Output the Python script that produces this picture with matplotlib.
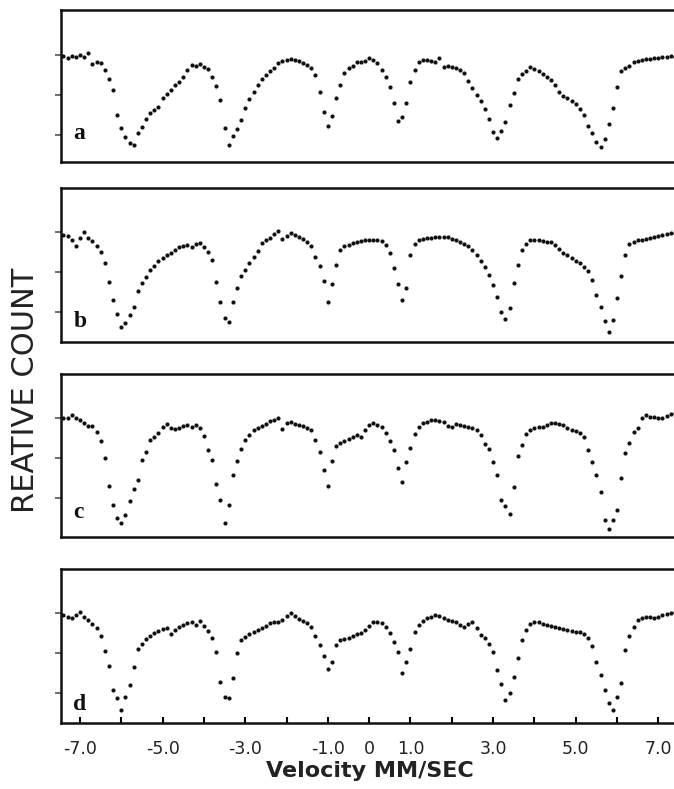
import numpy as np
import matplotlib
matplotlib.use("Agg")
import matplotlib.pyplot as plt

# Velocity channels (mm/s), one reading every 0.1 mm/s from -7.4 to 7.4
velocity = np.round(np.arange(-7.4, 7.45, 0.1), 2)

# Relative counts (%), one list per spectrum
count_a = [
    99.9, 99.7, 99.9, 99.8, 100.0, 99.8, 100.2, 99.1, 99.3, 99.2,
    98.5, 97.6, 96.5, 94.0, 92.7, 91.8, 91.2, 91.0, 92.2, 92.8,
    93.6, 94.2, 94.5, 94.8, 95.7, 96.1, 96.5, 97.0, 97.3, 97.8,
    98.5, 99.0, 98.9, 99.1, 98.8, 98.6, 97.8, 96.9, 95.5, 92.7,
    91.0, 91.9, 92.6, 93.5, 94.7, 95.6, 96.3, 97.0, 97.6, 98.0,
    98.4, 98.7, 99.2, 99.4, 99.5, 99.6, 99.5, 99.4, 99.2, 99.0,
    98.7, 98.0, 96.3, 94.3, 92.9, 93.9, 95.7, 97.0, 98.2, 98.7,
    98.9, 99.3, 99.3, 99.4, 99.7, 99.5, 99.2, 98.5, 97.8, 96.8,
    95.2, 93.4, 93.8, 95.2, 97.3, 98.5, 99.3, 99.5, 99.5, 99.4,
    99.3, 99.7, 98.8, 98.9, 98.8, 98.7, 98.5, 98.2, 97.4, 96.7,
    96.0, 95.4, 94.6, 93.6, 92.3, 91.7, 92.4, 93.3, 95.0, 96.2,
    97.6, 98.1, 98.4, 98.8, 98.6, 98.4, 98.1, 97.8, 97.5, 97.0,
    96.3, 95.9, 95.7, 95.4, 95.1, 94.6, 94.0, 92.9, 92.2, 91.3,
    90.8, 91.6, 93.1, 94.7, 96.8, 98.4, 98.7, 98.9, 99.3, 99.4,
    99.5, 99.6, 99.6, 99.7, 99.7, 99.8, 99.8, 99.9, 99.8,
]
count_b = [
    99.7, 99.6, 99.2, 98.6, 99.4, 100.0, 99.4, 99.1, 98.6, 98.0,
    96.9, 95.0, 93.2, 91.8, 90.5, 90.9, 91.7, 92.5, 94.1, 94.9,
    95.5, 96.2, 96.6, 97.1, 97.4, 97.7, 97.9, 98.2, 98.5, 98.6,
    98.7, 98.5, 98.8, 98.9, 98.5, 98.0, 97.2, 95.0, 93.0, 91.4,
    91.0, 93.0, 94.4, 95.6, 96.2, 96.9, 97.5, 98.1, 98.9, 99.2,
    99.4, 99.8, 100.1, 99.3, 99.6, 99.9, 99.7, 99.5, 99.3, 99.0,
    98.6, 97.5, 96.6, 95.1, 93.0, 94.8, 96.7, 98.2, 98.6, 98.7,
    98.9, 99.0, 99.1, 99.2, 99.2, 99.2, 99.2, 99.1, 98.7, 97.9,
    96.4, 94.8, 93.2, 94.4, 97.7, 98.8, 99.2, 99.3, 99.4, 99.4,
    99.5, 99.5, 99.5, 99.5, 99.3, 99.2, 99.0, 98.8, 98.6, 98.2,
    97.7, 97.1, 96.5, 95.7, 94.7, 93.5, 92.0, 91.3, 92.4, 94.9,
    96.7, 98.2, 98.8, 99.2, 99.2, 99.2, 99.1, 99.0, 99.0, 98.7,
    98.3, 97.9, 97.7, 97.4, 97.1, 96.9, 96.5, 96.1, 95.2, 93.7,
    92.5, 91.1, 90.0, 91.2, 93.4, 95.6, 97.7, 98.8, 99.0, 99.2,
    99.2, 99.3, 99.4, 99.5, 99.6, 99.7, 99.8, 99.9, 99.9,
]
count_c = [
    100.0, 100.0, 100.3, 100.0, 99.8, 99.5, 99.2, 99.2, 98.6, 97.7,
    96.0, 93.2, 91.3, 90.0, 89.5, 90.3, 91.7, 92.9, 93.8, 95.8,
    96.6, 97.8, 98.1, 98.5, 99.1, 99.4, 99.0, 98.9, 99.0, 99.2,
    99.3, 99.1, 99.3, 99.0, 98.2, 96.8, 95.8, 93.4, 91.8, 89.5,
    91.3, 94.3, 95.7, 96.9, 97.8, 98.3, 98.8, 99.0, 99.2, 99.4,
    99.7, 99.8, 100.0, 98.9, 99.5, 99.6, 99.4, 99.3, 99.2, 99.0,
    98.8, 97.8, 96.6, 94.8, 93.2, 95.7, 97.2, 97.5, 97.7, 97.9,
    98.1, 98.3, 98.1, 98.8, 99.3, 99.5, 99.3, 99.1, 98.5, 97.7,
    96.8, 95.0, 93.6, 95.6, 97.0, 98.4, 99.1, 99.5, 99.6, 99.8,
    99.8, 99.7, 99.6, 99.2, 99.1, 99.4, 99.3, 99.2, 99.1, 99.0,
    98.8, 98.3, 97.4, 96.9, 95.6, 94.3, 91.8, 91.2, 90.4, 93.1,
    96.2, 97.3, 98.4, 98.8, 99.0, 99.1, 99.1, 99.3, 99.5, 99.5,
    99.4, 99.3, 99.0, 98.8, 98.7, 98.5, 98.1, 96.8, 95.6, 94.3,
    92.6, 89.8, 88.9, 89.8, 90.8, 94.0, 96.5, 97.5, 98.6, 99.0,
    100.0, 100.3, 100.1, 100.1, 100.0, 100.0, 100.2, 100.4, 100.5,
]
count_d = [
    99.8, 99.6, 99.5, 99.8, 100.1, 99.6, 99.3, 98.9, 98.5, 97.7,
    96.2, 94.7, 92.3, 91.5, 90.3, 91.6, 92.8, 94.6, 96.4, 96.9,
    97.4, 97.7, 98.0, 98.2, 98.4, 98.5, 97.9, 98.3, 98.6, 98.8,
    99.0, 99.1, 98.8, 99.2, 98.7, 98.2, 97.5, 96.1, 93.1, 91.6,
    91.5, 93.5, 96.0, 97.3, 97.6, 97.9, 98.1, 98.3, 98.5, 98.7,
    99.0, 99.1, 99.1, 99.3, 99.7, 100.0, 99.7, 99.4, 99.2, 99.0,
    98.6, 97.7, 96.8, 95.7, 94.4, 95.1, 96.8, 97.3, 97.4, 97.5,
    97.7, 97.9, 98.0, 98.3, 98.7, 99.1, 99.1, 99.0, 98.6, 98.0,
    97.1, 96.1, 94.0, 95.1, 96.4, 98.1, 98.8, 99.2, 99.5, 99.6,
    99.8, 99.7, 99.5, 99.3, 99.2, 99.1, 98.8, 98.6, 98.9, 99.1,
    98.5, 97.8, 97.5, 96.9, 96.1, 94.3, 92.9, 91.3, 92.0, 93.6,
    95.5, 97.3, 98.3, 98.9, 99.1, 99.1, 98.9, 98.8, 98.7, 98.6,
    98.5, 98.4, 98.3, 98.2, 98.1, 98.1, 97.9, 97.5, 96.7, 95.1,
    93.8, 92.3, 91.0, 90.3, 91.6, 93.0, 96.3, 97.7, 98.6, 99.3,
    99.5, 99.6, 99.6, 99.5, 99.6, 99.8, 99.9, 100.0, 100.1,
]

panel_labels = ["a", "b", "c", "d"]
spectra = [count_a, count_b, count_c, count_d]
ylims = [(89.3, 104.5), (89.0, 104.4), (88.1, 104.4), (89.0, 104.4)]
tick_major = [-7, -5, -3, -1, 0, 1, 3, 5, 7]
tick_labels = ["-7.0", "-5.0", "-3.0", "-1.0", "0", "1.0", "3.0", "5.0", "7.0"]
tick_minor = [-6, -4, -2, 2, 4, 6]

W, H = 674, 789
fig = plt.figure(figsize=(W / 100, H / 100), dpi=100)

# panel boxes in pixels: (top, bottom)
boxes = [(10, 162), (188, 342), (374, 537), (569, 723)]
letter_y = [0.19, 0.13, 0.15, 0.12]
left_px, right_px = 61, 679

for i, (lab, cnt, yl, (t, b)) in enumerate(zip(panel_labels, spectra, ylims, boxes)):
    ax = fig.add_axes([left_px / W, 1 - b / H, (right_px - left_px) / W, (b - t) / H])
    ax.plot(velocity, cnt, "o", ms=3.0, color="#111111", mec="none")
    ax.set_xlim(-7.46, 7.5)
    ax.set_ylim(*yl)
    for s in ax.spines.values():
        s.set_linewidth(1.8)
        s.set_color("#111111")
    ax.set_yticks([100, 96, 92])
    ax.set_yticklabels([])
    ax.tick_params(axis="y", direction="out", length=4, width=1.2, color="#555555")
    ax.text(0.02, letter_y[i], lab, transform=ax.transAxes, fontsize=17, fontweight="bold",
            family="Liberation Serif", color="#111111", va="center", ha="left")
    if i < 3:
        ax.set_xticks([])
    else:
        ax.set_xticks(tick_major)
        ax.set_xticklabels(tick_labels, fontsize=12.5, family="DejaVu Sans", color="#222222")
        ax.set_xticks(tick_minor, minor=True)
        ax.tick_params(axis="x", which="both", direction="in", length=4, width=1.5, pad=12)

fig.text(26 / W, 1 - 390 / H, "REATIVE COUNT", rotation=90, fontsize=22,
         family="DejaVu Sans", color="#222222", ha="center", va="center")
fig.text(370 / W, 1 - 771 / H, "Velocity MM/SEC", fontsize=16, fontweight="bold",
         family="DejaVu Sans", color="#222222", ha="center", va="center")

fig.savefig("out.png", dpi=100)
